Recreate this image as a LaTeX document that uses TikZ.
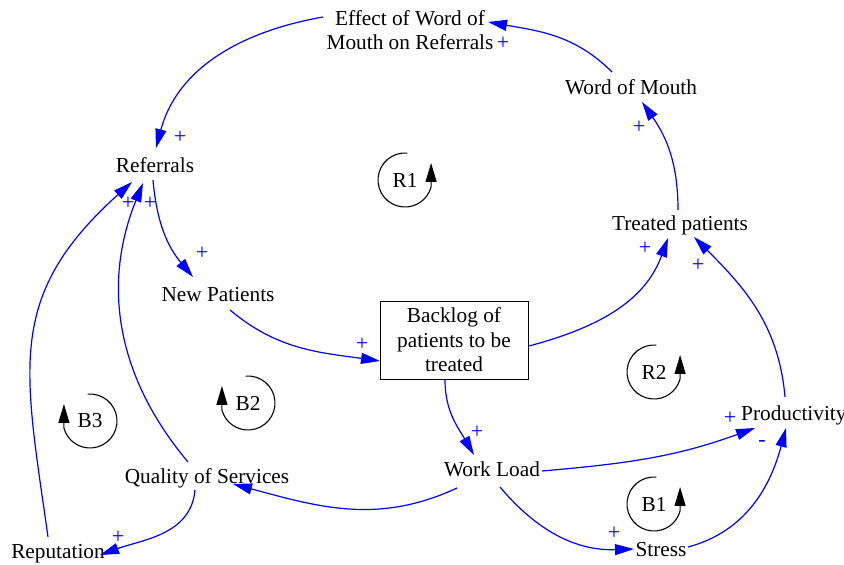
\documentclass[tikz,border=0pt]{standalone}
\usepackage{fontspec}
\setmainfont{Liberation Serif}
\usetikzlibrary{arrows.meta,calc}
\newcommand\loopR[4]{%
  \node[looplbl] (#1) at (#2,#3) {#4};
  \draw[loopline] ([shift={(85:27pt)}]#2,#3) arc[start angle=85,end angle=345,radius=27pt] -- ++(0,24pt);}
\newcommand\loopB[4]{%
  \node[looplbl] (#1) at (#2,#3) {#4};
  \draw[loopline] ([shift={(95:27pt)}]#2,#3) arc[start angle=95,end angle=-165,radius=27pt] -- ++(0,24pt);}
\begin{document}
\begin{tikzpicture}[x=1pt,y=1pt,
  lbl/.style={font=\fontsize{21.3}{24}\selectfont, inner sep=1pt, align=center, text height=14pt, text depth=0pt},
  mlbl/.style={font=\fontsize{21.3}{24}\selectfont, inner sep=1pt, align=center},
  boxnode/.style={draw, line width=1pt, minimum width=148pt, minimum height=78pt, align=center, inner sep=2pt,
     font=\fontsize{21.3}{24.5}\selectfont},
  conn/.style={draw=blue, line width=1.2pt, -{Triangle[length=19pt,width=11pt]}},
  pol/.style={text=blue, font=\fontsize{22}{22}\selectfont, inner sep=0pt},
  looplbl/.style={font=\fontsize{21.3}{24}\selectfont, inner sep=0pt},
  loopline/.style={draw=black, line width=1.1pt, -{Triangle[length=19pt,width=11pt]}}]
\useasboundingbox (0,0) rectangle (844,-565);

% nodes
\node[mlbl] (eff) at (410,-30) {Effect of Word of\\Mouth on Referrals};
\node[lbl] (ref) at (155,-165) {Referrals};
\node[lbl] (wom) at (631,-87) {Word of Mouth};
\node[lbl] (tp) at (680,-223) {Treated patients};
\node[lbl] (np) at (218,-294) {New Patients};
\node[boxnode] (bl) at (454,-340) {Backlog of\\patients to be\\treated};
\node[lbl] (wl) at (492,-469) {Work Load};
\node[lbl] (qos) at (207,-476) {Quality of Services};
\node[lbl] (rep) at (58,-551) {Reputation};
\node[lbl] (stress) at (661,-549) {Stress};
\node[lbl, anchor=west, inner sep=0pt] (prod) at (741,-413) {Productivity};

% connectors
\draw[conn] ($(wom)+(-19,15)$) to[out=135,in=-10] ($(eff)+(78,8)$);
\draw[conn] ($(eff)+(-87,13)$) to[out=190,in=75] ($(ref)+(1,17)$);
\draw[conn] ($(ref)+(-2,-15)$) to[out=-85,in=130] ($(np)+(-25,17)$);
\draw[conn] ($(np)+(12,-16)$) to[out=-40,in=172] ($(bl)+(-74,-21)$);
\draw[conn] ($(bl)+(75,-6)$) to[out=15,in=-110] ($(tp)+(-12,-15)$);
\draw[conn] ($(tp)+(-2,13)$) to[out=90,in=-55] ($(wom)+(11,-15)$);
\draw[conn] ($(bl)+(-9,-40)$) to[out=-90,in=120] ($(wl)+(-18,14)$);
\draw[conn] ($(wl)+(50,-2)$) to[out=5,in=200] ($(prod.west)+(14,-15)$);
\draw[conn] ($(wl)+(8,-18)$) to[out=-50,in=182] ($(stress)+(-27,0)$);
\draw[conn] ($(stress)+(27,2)$) to[out=15,in=-105] ($(prod.west)+(45,-15)$);
\draw[conn] ($(prod.west)+(44,16)$) to[out=95,in=-45] ($(tp)+(14,-14)$);
\draw[conn] ($(wl)+(-35,-19)$) to[out=-155,in=-15] ($(qos)+(26,-8)$);
\draw[conn] ($(qos)+(-19,14)$) to[out=130,in=-112] ($(ref)+(-12,-18)$);
\draw[conn] ($(rep)+(-10,14)$) to[out=98,in=-138,looseness=1.2] ($(ref)+(-23,-17)$);
\draw[conn] ($(qos)+(-12,-14)$) to[out=-95,in=20] ($(rep)+(42,-4)$);

% polarities
\node[pol] (p1) at (503,-43) {+};
\node[pol] (p2) at (180,-137) {+};
\node[pol] (p3) at (202,-253) {+};
\node[pol] (p4) at (362,-344) {+};
\node[pol] (p5) at (645,-248) {+};
\node[pol] (p6) at (639,-127) {+};
\node[pol] (p7) at (477,-432) {+};
\node[pol] (p8) at (730,-418) {+};
\node[pol] (p9) at (614,-533) {+};
\node[pol] (p10) at (762,-443) {-};
\node[pol] (p11) at (698,-265) {+};
\node[pol] (p12) at (128,-203) {+};
\node[pol] (p13) at (150,-203) {+};
\node[pol] (p14) at (118,-537) {+};

% loop markers
\loopR{r1}{405}{-180}{R1}
\loopR{r2}{654}{-372}{R2}
\loopR{b1}{654}{-504}{B1}
\loopB{b2}{248}{-403}{B2}
\loopB{b3}{90}{-421}{B3}
\end{tikzpicture}
\end{document}
